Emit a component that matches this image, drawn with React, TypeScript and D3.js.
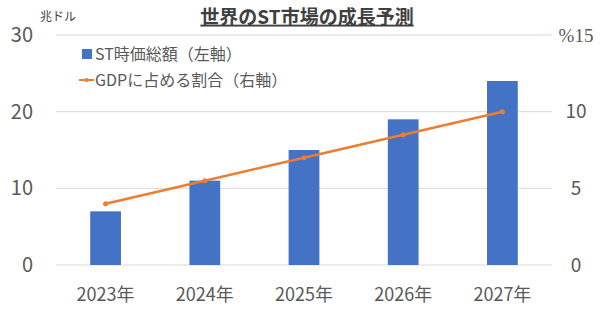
import React from 'react';
import * as d3 from 'd3';

const years = ['2023年', '2024年', '2025年', '2026年', '2027年'];
const marketCap = [7, 11, 15, 19, 24]; // 兆ドル (left axis)
const gdpShare = [4, 5.5, 7, 8.5, 10]; // % (right axis)
const leftTicks = [0, 10, 20, 30];
const rightTicks = [0, 5, 10, 15];

const W = 600, H = 336;
const margin = { top: 35, right: 48, bottom: 71, left: 56 };
const FONT = '"Noto Sans CJK JP", "Noto Sans", sans-serif';
const BLUE = '#4472C4';
const ORANGE = '#ED7D31';
const GREY = '#595959';

export default function App() {
  const x = d3.scaleBand()
    .domain(years)
    .range([margin.left, W - margin.right])
    .paddingInner(0.69)
    .paddingOuter(0.345);

  const yL = d3.scaleLinear().domain([0, 30]).range([H - margin.bottom, margin.top]);
  const yR = d3.scaleLinear().domain([0, 15]).range([H - margin.bottom, margin.top]);

  const cx = (d: string) => (x(d) as number) + x.bandwidth() / 2;

  const line = d3.line<number>()
    .x((_, i) => cx(years[i]))
    .y(d => yR(d));

  return (
    <svg width={W} height={H} style={{ position: 'absolute', left: 0, top: 0, background: '#fff' }}
      fontFamily={FONT}>
      {/* gridlines */}
      {leftTicks.map(t => (
        <line key={t} x1={margin.left} x2={W - margin.right} y1={yL(t)} y2={yL(t)}
          stroke="#d9d9d9" strokeWidth={1} />
      ))}

      {/* left ticks */}
      {leftTicks.map(t => (
        <text key={t} x={33} y={yL(t)} dy="0.35em" textAnchor="end" fontSize={20} fill={GREY}>{t}</text>
      ))}
      {/* right ticks */}
      {rightTicks.map(t => (
        <text key={t} x={576} y={yR(t)} dy="0.35em" textAnchor="middle" fontSize={19} fill={GREY}
          fontFamily={t === 15 ? '"Liberation Serif", serif' : FONT}>
          {t === 15 ? '%15' : t}
        </text>
      ))}

      {/* unit */}
      <text x={40} y={17} dy="0.35em" fontSize={12} fill="#404040">兆ドル</text>

      {/* title */}
      <text x={307} y={17} dy="0.35em" textAnchor="middle" fontSize={19} fontWeight="bold" fill="#404040"
        textDecoration="underline">世界のST市場の成長予測</text>

      {/* bars */}
      {marketCap.map((v, i) => (
        <rect key={years[i]} x={x(years[i])} y={yL(v)} width={x.bandwidth()}
          height={yL(0) - yL(v)} fill={BLUE} />
      ))}

      {/* line */}
      <path d={line(gdpShare) || ''} fill="none" stroke={ORANGE} strokeWidth={2.5} strokeLinecap="round" />
      {gdpShare.map((v, i) => (
        <circle key={i} cx={cx(years[i])} cy={yR(v)} r={2.5} fill={ORANGE} />
      ))}

      {/* x labels */}
      {years.map(y => (
        <text key={y} x={cx(y)} y={295} dy="0.35em" textAnchor="middle" fontSize={18} fill={GREY}>{y}</text>
      ))}

      {/* legend */}
      <rect x={82} y={49} width={10} height={10} fill={BLUE} />
      <text x={95} y={54} dy="0.35em" fontSize={16} fill={GREY}>ST時価総額（左軸）</text>
      <line x1={79} x2={94} y1={80} y2={80} stroke={ORANGE} strokeWidth={2} />
      <circle cx={86.5} cy={80} r={2} fill={ORANGE} />
      <text x={95} y={80} dy="0.35em" fontSize={16} fill={GREY}>GDPに占める割合（右軸）</text>
    </svg>
  );
}
